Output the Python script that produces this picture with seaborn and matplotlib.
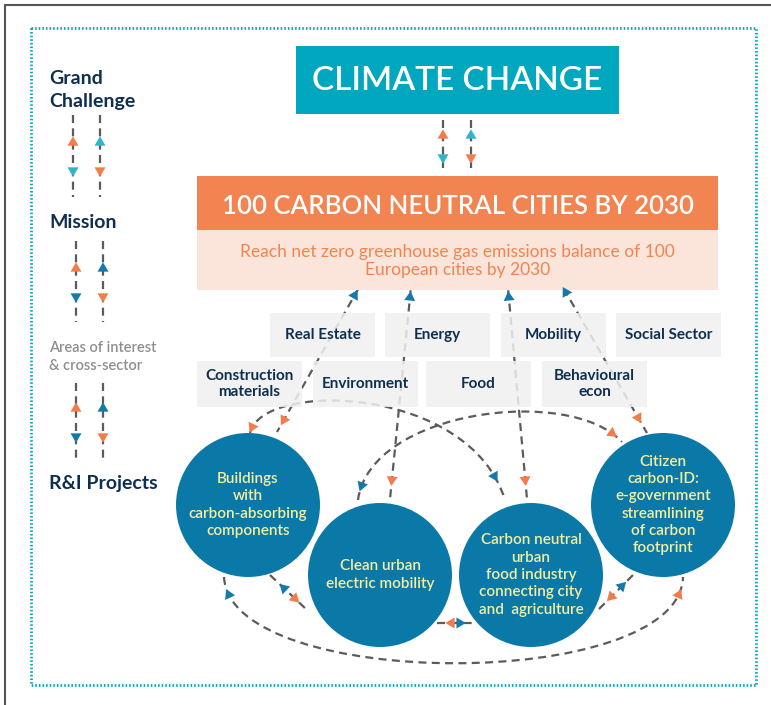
import numpy as np
import matplotlib.pyplot as plt
import matplotlib.patches as mpatches
from matplotlib.path import Path
import seaborn as sns

# ---- texts / data ----
grand_title = "CLIMATE CHANGE"
mission_title = "100 CARBON NEUTRAL CITIES BY 2030"
mission_text = "Reach net zero greenhouse gas emissions balance of 100\nEuropean cities by 2030"

levels = ["Grand\nChallenge", "Mission", "Areas of interest\n& cross-sector", "R&I Projects"]
level_y = [90, 223, 357, 484]

sectors_row1 = ["Real Estate", "Energy", "Mobility", "Social Sector"]
sectors_row1_x = [270, 385, 501, 616]
sectors_row2 = ["Construction\nmaterials", "Environment", "Food", "Behavioural\necon"]
sectors_row2_x = [197, 313, 426, 542]

projects = ["Buildings\nwith\ncarbon-absorbing\ncomponents",
            "Clean urban\nelectric mobility",
            "Carbon neutral\nurban\nfood industry\nconnecting city\nand  agriculture",
            "Citizen\ncarbon-ID:\ne-government\nstreamlining\nof carbon\nfootprint"]
proj_x = [248, 380, 531, 663]
proj_y = [505, 575, 575, 505]
proj_r = 72

# ---- colours ----
TEAL = "#00a7bf"
ORANGE = "#f28451"
PINK = "#fbe4da"
BLUE = "#0a79a7"
ARROW_OR = "#f47b4a"
ARROW_BL = "#157aaa"
ARROW_TE = "#2fb4c8"
NAVY = "#0e2f50"
GREY_TXT = "#8e8e8e"
BOX = "#f0f0f0"
DASH = "#5b5b5b"
YELLOW = "#f4eea0"

sns.set_theme(style="white")
plt.rcParams['font.family'] = ['Lato', 'DejaVu Sans']

fig = plt.figure(figsize=(7.71, 7.05), dpi=100)
ax = fig.add_axes([0, 0, 1, 1])
ax.set_xlim(0, 771)
ax.set_ylim(705, 0)
ax.axis('off')

dash_kw = dict(color=DASH, lw=1.6, linestyle=(0, (3.6, 2.4)), zorder=2, solid_capstyle='butt')


def tri(x, y, ang, color, size=11):
    # triangle centred on (x, y) pointing along ang (degrees, screen coords, y down)
    a = np.deg2rad(ang)
    d = np.array([np.cos(a), np.sin(a)])
    n = np.array([-d[1], d[0]])
    c = np.array([x, y])
    h = size * 0.85
    pts = [c + d * h / 2, c - d * h / 2 + n * size / 2, c - d * h / 2 - n * size / 2]
    ax.add_patch(mpatches.Polygon(pts, closed=True, color=color, lw=0, zorder=6))


def seg(p0, p1, arrows):
    ax.plot([p0[0], p1[0]], [p0[1], p1[1]], **dash_kw)
    ang = np.degrees(np.arctan2(p1[1] - p0[1], p1[0] - p0[0]))
    for t, col, rev in arrows:
        x = p0[0] + t * (p1[0] - p0[0])
        y = p0[1] + t * (p1[1] - p0[1])
        tri(x, y, ang + (180 if rev else 0), col)


def bez(pts, arrows):
    P = np.array(pts, dtype=float)
    path = Path(P, [Path.MOVETO, Path.CURVE4, Path.CURVE4, Path.CURVE4])
    ax.add_patch(mpatches.PathPatch(path, fill=False, edgecolor=DASH, lw=1.6,
                                    linestyle=(0, (3.6, 2.4)), zorder=2))
    for t, col, rev in arrows:
        pt = ((1 - t) ** 3 * P[0] + 3 * (1 - t) ** 2 * t * P[1]
              + 3 * (1 - t) * t ** 2 * P[2] + t ** 3 * P[3])
        dv = (3 * (1 - t) ** 2 * (P[1] - P[0]) + 6 * (1 - t) * t * (P[2] - P[1])
              + 3 * t ** 2 * (P[3] - P[2]))
        ang = np.degrees(np.arctan2(dv[1], dv[0]))
        tri(pt[0], pt[1], ang + (180 if rev else 0), col)


# frames
ax.plot([5, 771], [5, 5], color="#555555", lw=1.5, zorder=1)
ax.plot([5, 5], [5, 705], color="#555555", lw=1.5, zorder=1)
ax.add_patch(mpatches.Rectangle((31, 28), 725, 657, fill=False, edgecolor=TEAL,
                                lw=2.0, linestyle=(0, (0.55, 0.75)), zorder=1))

# top boxes
ax.add_patch(mpatches.Rectangle((296, 46), 323, 68, color=TEAL, lw=0, zorder=3))
ax.text(457.5, 81, grand_title, color="white", fontsize=24, fontweight='semibold',
        ha='center', va='center', zorder=4)
ax.add_patch(mpatches.Rectangle((197, 176), 521, 54, color=ORANGE, lw=0, zorder=3))
ax.text(457.5, 206, mission_title, color="white", fontsize=18.5, fontweight='semibold',
        ha='center', va='center', zorder=4)
ax.add_patch(mpatches.Rectangle((197, 230), 521, 60, color=PINK, lw=0, zorder=3))
ax.text(457.5, 261, mission_text, color=ORANGE, fontsize=12.5, ha='center', va='center',
        linespacing=1.1, zorder=4)

# arrows between Climate change and mission
for x, up_c, dn_c in [(443, ARROW_OR, ARROW_TE), (471, ARROW_TE, ARROW_OR)]:
    ax.plot([x, x], [120, 173], **dash_kw)
    tri(x, 134, -90, up_c)
    tri(x, 159, 90, dn_c)

# left legend
for i, (lab, y) in enumerate(zip(levels, level_y)):
    grey = i == 2
    ax.text(49, y, lab, color=GREY_TXT if grey else NAVY,
            fontsize=10.5 if grey else 14, fontweight='bold' if not grey else 'semibold',
            ha='left', va='center', linespacing=1.4 if not grey else 1.3)

left_sets = [(73, 100, 115, 197, 141, 172, ARROW_TE),
             (76, 103, 241, 322, 267, 298, ARROW_BL),
             (76, 103, 383, 463, 407, 438, ARROW_BL)]
for x1, x2, y0, y1, yu, yd, cc in left_sets:
    for x in (x1, x2):
        ax.plot([x, x], [y0, y1], **dash_kw)
    tri(x1, yu, -90, ARROW_OR)
    tri(x1, yd, 90, cc)
    tri(x2, yu, -90, cc)
    tri(x2, yd, 90, ARROW_OR)

# connectors mission -> projects
seg((365, 277), (277, 432), [(0.11, ARROW_BL, True), (0.93, ARROW_OR, False)])
seg((412, 277), (390, 499), [(0.085, ARROW_BL, True), (0.92, ARROW_OR, False)])
seg((507, 277), (527, 499), [(0.085, ARROW_BL, True), (0.92, ARROW_OR, False)])
seg((557, 277), (647, 433), [(0.09, ARROW_BL, True), (0.91, ARROW_OR, False)])

# arcs between projects
bez([(250, 433), (262, 380), (470, 385), (505, 500)],
    [(0.03, ARROW_OR, True), (0.93, ARROW_BL, False)])
bez([(358, 500), (370, 410), (570, 385), (622, 442)],
    [(0.05, ARROW_BL, True), (0.95, ARROW_OR, False)])
bez([(224, 577), (230, 692), (680, 692), (683, 577)],
    [(0.05, ARROW_BL, True), (0.95, ARROW_OR, False)])
seg((270, 575), (307, 610), [(0.35, ARROW_BL, True), (0.7, ARROW_OR, False)])
seg((437, 623), (473, 623), [(0.36, ARROW_OR, True), (0.67, ARROW_BL, False)])
seg((599, 609), (633, 575), [(0.33, ARROW_OR, True), (0.7, ARROW_BL, False)])

# sector boxes (slightly transparent so dashes show through)
for labels, xs, y0, h in [(sectors_row1, sectors_row1_x, 313, 44),
                          (sectors_row2, sectors_row2_x, 361, 46)]:
    for lab, x in zip(labels, xs):
        ax.add_patch(mpatches.Rectangle((x, y0), 105, h, color=BOX, alpha=0.85, lw=0, zorder=4))
        ax.text(x + 52.5, y0 + h / 2, lab, color=NAVY, fontsize=11, fontweight='bold',
                ha='center', va='center', linespacing=1.1, zorder=5)

# project circles
s = (2 * proj_r * 72 / fig.dpi) ** 2
sns.scatterplot(x=proj_x, y=proj_y, s=s, color=BLUE, edgecolor='none', linewidth=0,
                ax=ax, zorder=5, legend=False)
ax.set_xlim(0, 771)
ax.set_ylim(705, 0)
for lab, x, y in zip(projects, proj_x, proj_y):
    ax.text(x, y, lab, color=YELLOW, fontsize=11, fontweight='semibold',
            ha='center', va='center', linespacing=1.3, zorder=7)
ax.axis('off')

fig.savefig("out.png", dpi=100, facecolor="white")
